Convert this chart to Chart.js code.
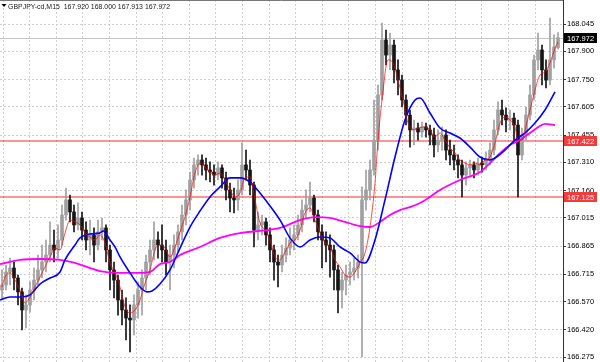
<!DOCTYPE html>
<html><head><meta charset="utf-8">
<script src="https://cdn.jsdelivr.net/npm/chart.js@4.4.1/dist/chart.umd.min.js"></script>
<style>html,body{margin:0;padding:0;background:#fff;overflow:hidden}canvas{display:block}</style>
</head><body>
<canvas id="c" width="600" height="362"></canvas>
<script>
const symbol = "GBPJPY-cd,M15";
const opens = [166.631,166.658,166.727,166.748,166.695,166.621,166.525,166.552,166.631,166.684,
166.738,166.780,166.817,166.870,166.844,166.897,167.030,167.110,167.046,166.977,
167.014,166.950,166.897,166.924,166.870,166.940,166.961,166.844,166.738,166.684,
166.578,166.525,166.482,166.472,166.552,166.631,166.695,166.780,166.844,166.897,
166.870,166.844,166.780,166.817,166.870,166.940,167.030,167.110,167.216,167.296,
167.322,167.296,167.269,167.258,167.242,167.280,167.227,167.163,167.120,167.110,
167.163,167.296,167.269,167.189,166.950,166.977,166.993,166.924,166.844,166.780,
166.764,166.817,166.854,166.897,166.924,166.977,167.056,167.083,167.120,167.030,
166.940,166.897,166.870,166.844,166.738,166.631,166.684,166.711,166.727,166.748,
166.780,167.110,167.163,167.269,167.428,167.668,167.960,167.880,167.933,167.801,
167.747,167.641,167.561,167.482,167.492,167.471,167.498,167.482,167.455,167.402,
167.428,167.455,167.375,167.349,167.322,167.296,167.242,167.280,167.296,167.269,
167.306,167.296,167.322,167.375,167.482,167.588,167.561,167.535,167.545,167.508,
167.349,167.455,167.561,167.668,167.854,167.907,167.801,167.747,167.854,167.920];
const highs = [166.738,166.764,166.801,166.780,166.711,166.642,166.605,166.674,166.748,166.817,
166.870,166.897,166.993,166.950,166.977,167.083,167.173,167.136,167.083,167.094,
167.046,166.993,167.003,166.961,167.003,167.014,166.977,166.870,166.780,166.711,
166.631,166.589,166.552,166.605,166.674,166.738,166.817,166.897,166.993,166.940,
166.977,166.897,166.870,166.924,166.977,167.083,167.163,167.258,167.333,167.349,
167.349,167.333,167.312,167.296,167.312,167.296,167.258,167.200,167.173,167.216,
167.413,167.375,167.322,167.205,167.046,167.030,167.014,166.961,166.870,166.817,
166.870,166.908,166.961,166.977,167.030,167.110,167.163,167.205,167.136,167.056,
166.977,166.940,166.924,166.870,166.764,166.727,166.764,166.780,166.801,166.817,
167.179,167.269,167.322,167.641,167.721,168.050,168.013,167.997,167.960,167.854,
167.774,167.668,167.588,167.535,167.519,167.524,167.519,167.508,167.492,167.482,
167.498,167.482,167.428,167.402,167.349,167.322,167.312,167.322,167.312,167.333,
167.338,167.365,167.413,167.535,167.631,167.641,167.599,167.588,167.572,167.535,
167.492,167.604,167.721,167.880,167.997,167.933,167.854,168.077,167.987,168.000];
const lows = [166.578,166.631,166.658,166.631,166.552,166.419,166.429,166.514,166.578,166.658,
166.695,166.727,166.780,166.780,166.801,166.870,167.003,166.993,166.940,166.950,
166.897,166.844,166.817,166.780,166.844,166.897,166.780,166.631,166.589,166.498,
166.445,166.366,166.302,166.392,166.482,166.498,166.631,166.711,166.791,166.801,
166.780,166.711,166.631,166.748,166.833,166.897,166.977,167.056,167.173,167.242,
167.242,167.216,167.205,167.189,167.216,167.173,167.110,167.046,167.041,167.056,
167.136,167.216,167.136,166.860,166.897,166.924,166.870,166.780,166.684,166.647,
166.727,166.780,166.817,166.844,166.897,166.940,167.014,167.046,166.993,166.897,
166.748,166.780,166.700,166.631,166.509,166.536,166.605,166.658,166.684,166.695,
166.275,167.056,167.110,167.242,167.375,167.641,167.827,167.801,167.732,167.668,
167.604,167.508,167.391,167.402,167.428,167.444,167.444,167.402,167.338,167.365,
167.375,167.322,167.296,167.269,167.227,167.126,167.189,167.242,167.227,167.242,
167.258,167.269,167.296,167.349,167.455,167.508,167.471,167.482,167.428,167.126,
167.322,167.428,167.535,167.641,167.801,167.721,167.705,167.721,167.811,167.913];
const closes = [166.658,166.727,166.748,166.695,166.621,166.525,166.552,166.631,166.684,166.738,
166.780,166.817,166.870,166.844,166.897,167.030,167.110,167.046,166.977,167.014,
166.950,166.897,166.924,166.870,166.940,166.961,166.844,166.738,166.684,166.578,
166.525,166.482,166.472,166.552,166.631,166.695,166.780,166.844,166.897,166.870,
166.844,166.780,166.817,166.870,166.940,167.030,167.110,167.216,167.296,167.322,
167.296,167.269,167.258,167.242,167.280,167.227,167.163,167.120,167.110,167.163,
167.296,167.269,167.189,166.950,166.977,166.993,166.924,166.844,166.780,166.764,
166.817,166.854,166.897,166.924,166.977,167.056,167.083,167.120,167.030,166.940,
166.897,166.870,166.844,166.738,166.631,166.684,166.711,166.727,166.748,166.780,
167.110,167.163,167.269,167.428,167.668,167.960,167.880,167.933,167.801,167.747,
167.641,167.561,167.482,167.492,167.471,167.498,167.482,167.455,167.402,167.428,
167.455,167.375,167.349,167.322,167.296,167.242,167.280,167.296,167.269,167.306,
167.296,167.322,167.375,167.482,167.588,167.561,167.535,167.545,167.508,167.349,
167.455,167.561,167.668,167.854,167.907,167.801,167.747,167.854,167.923,167.972];

// Fast MA (red), sampled along the bar index
const fastMaX = [0,0.75,2,3.25,4.5,5.75,7,8.25,9.5,10.75,12,13.25,14.5,15.75,17,18.25,19.5,20.75,22,23.25,24.5,25.75,27,28.25,29.5,30.75,32,33.25,34.5,35.75,37,38.25,39.5,40.75,42,43.25,44.5,45.75,47,48.25,49.5,50.75,52,53.25,54.5,55.75,57,58.25,59.5,60.75,62,63.25,64.5,65.75,67,68.25,69.5,70.75,72,73.25,74.5,75.75,77,78.25,79.5,80.75,82,83.25,84.5,85.75,87,88.25,89.5,90.75,92,93.25,94,95,96.5,97.75,99,100.25,101.5,102.75,104,105.75,107,108.25,109.5,110.75,112,113.25,114.5,115.75,117,118.25,119.5,120.75,122,123.25,124.5,125.75,127,128.25,129,130,130.75,132,133.25,134.5,135.75,137,138.25,139];
const fastMa = [166.647,166.700,166.722,166.684,166.631,166.562,166.594,166.647,166.700,166.754,
166.807,166.854,166.844,166.934,167.003,166.993,166.977,166.934,166.913,166.897,
166.924,166.881,166.775,166.722,166.647,166.541,166.509,166.525,166.578,166.668,
166.738,166.844,166.870,166.854,166.807,166.860,166.940,167.019,167.126,167.253,
167.306,167.285,167.258,167.242,167.253,167.216,167.163,167.126,167.147,167.227,
167.232,167.110,166.987,166.950,166.897,166.807,166.791,166.833,166.881,166.897,
166.950,167.041,167.067,167.003,166.934,166.881,166.860,166.791,166.754,166.711,
166.700,166.727,166.775,166.828,166.966,167.200,167.428,167.641,167.854,167.838,
167.747,167.641,167.519,167.482,167.492,167.498,167.482,167.444,167.466,167.428,
167.386,167.359,167.322,167.306,167.296,167.306,167.296,167.322,167.338,167.413,
167.519,167.551,167.535,167.498,167.428,167.428,167.482,167.588,167.694,167.774,
167.790,167.838,167.917,167.949];
// Medium MA (blue)
const midMaX = [-0.5,2,4.5,7,9.5,12,14.5,15.75,18.25,19.5,22,24.5,25.25,27,28.25,29.5,32,34.5,36.25,37.5,39.5,42,44.5,47,49.5,52,54.5,57,59.5,62,64.5,67,69.5,72,74.5,77,79.5,82,84.5,87,89.5,90.75,93.25,95.75,98.25,100.75,103.25,104.5,107,109.5,112,114.5,117,119.5,122,123.25,125.75,128.25,130.75,133.25,135.75,138.25];
const midMa = [166.578,166.594,166.594,166.605,166.663,166.695,166.727,166.791,166.870,166.908,
166.929,166.934,166.945,166.897,166.860,166.807,166.722,166.647,166.621,166.626,
166.663,166.738,166.854,166.966,167.051,167.126,167.179,167.227,167.227,167.205,
167.147,167.078,167.003,166.908,166.860,166.897,166.913,166.908,166.860,166.828,
166.780,166.775,166.897,167.110,167.338,167.535,167.641,167.652,167.572,167.492,
167.466,167.439,167.391,167.338,167.322,167.333,167.375,167.428,167.466,167.519,
167.588,167.684];
// Slow MA (magenta)
const slowMaX = [-0.5,4.5,9.5,14.5,18.25,22,24.5,29.5,34.5,37,39.5,42,44.5,49.5,54.5,59.5,64.5,69.5,74.5,78.25,82,85.75,89.5,92,94.5,97,99.5,102,104.5,107,109.5,114.5,119.5,122,124.5,127,129.5,132,134.5,135.75,138.25];
const slowMa = [166.769,166.791,166.796,166.791,166.775,166.748,166.732,166.722,166.722,166.727,
166.769,166.780,166.817,166.860,166.908,166.934,166.945,166.961,167.003,167.019,
167.014,166.993,166.971,166.966,166.993,167.030,167.056,167.072,167.094,167.126,
167.163,167.216,167.258,167.306,167.359,167.402,167.428,167.466,167.503,167.514,
167.508];

const yTickLabels = [168.045,167.900,167.750,167.605,167.455,167.310,167.160,167.015,166.865,166.715,166.570,166.420,166.275];
const priceLevels = [167.422, 167.125];
const lastPrice = closes[closes.length - 1];

const Y_MIN = 166.2485, Y_MAX = 168.1726;
const X_MIN = -0.5, X_MAX = 140.25;
const AXIS_W = 37;
const BULL = '#a0a0a0', BEAR = '#151515';
const colorOf = (i) => closes[i] >= opens[i] ? BULL : BEAR;

const wickData = opens.map((o, i) => ({x: i, y: [lows[i], highs[i]]}));
const bodyData = opens.map((o, i) => ({x: i, y: [o, closes[i]]}));
const pts = (xs, vs) => xs.slice(0, Math.min(xs.length, vs.length)).map((x, i) => ({x, y: vs[i]}));

const overlay = {
  id: 'overlay',
  beforeDatasetsDraw(chart) {
    const {ctx, chartArea: a, scales: {y}} = chart;
    ctx.save();
    ctx.setLineDash([]);
    ctx.globalAlpha = 1;
    ctx.lineWidth = 1;
    ctx.strokeStyle = '#c4c4c4';
    let py = Math.round(y.getPixelForValue(lastPrice)) + 0.5;
    ctx.beginPath(); ctx.moveTo(a.left, py); ctx.lineTo(a.right, py); ctx.stroke();
    ctx.strokeStyle = '#ff2a2a';
    ctx.lineWidth = 1.2;
    priceLevels.forEach(v => {
      const p = Math.round(y.getPixelForValue(v));
      ctx.beginPath(); ctx.moveTo(a.left, p); ctx.lineTo(a.right, p); ctx.stroke();
    });
    ctx.restore();
  },
  afterDraw(chart) {
    const {ctx, chartArea: a, scales: {y}} = chart;
    ctx.save();
    ctx.setLineDash([]);
    // frame
    ctx.strokeStyle = '#777';
    ctx.lineWidth = 1;
    ctx.beginPath(); ctx.moveTo(0, 0.5); ctx.lineTo(a.right, 0.5); ctx.stroke();
    ctx.strokeStyle = '#333';
    ctx.beginPath(); ctx.moveTo(a.right + 0.5, 0); ctx.lineTo(a.right + 0.5, chart.height); ctx.stroke();
    // price labels
    ctx.font = '7.5px "Liberation Sans", Arial, sans-serif';
    ctx.textBaseline = 'middle';
    ctx.textAlign = 'left';
    const box = (v, bg) => {
      const p = Math.round(y.getPixelForValue(v));
      ctx.fillStyle = bg;
      ctx.fillRect(a.right + 1, p - 5, 33, 10);
      ctx.fillStyle = '#fff';
      ctx.fillText(v.toFixed(3), a.right + 4, p + 0.5, 28);
    };
    box(lastPrice, '#000');
    priceLevels.forEach(v => box(v, '#f23c3c'));
    // title
    ctx.fillStyle = '#000';
    ctx.beginPath(); ctx.moveTo(1.5, 4); ctx.lineTo(6.5, 4); ctx.lineTo(4, 7); ctx.closePath(); ctx.fill();
    ctx.font = '7px "Liberation Sans", Arial, sans-serif';
    ctx.textBaseline = 'alphabetic';
    const n = closes.length - 1;
    const t = symbol + '  ' + [opens[n], highs[n], lows[n], closes[n]].map(v => v.toFixed(3)).join(' ');
    ctx.fillStyle = '#222';
    ctx.fillText(t, 8, 9, 162);
    ctx.restore();
  }
};

new Chart(document.getElementById('c'), {
  type: 'bar',
  data: {
    datasets: [
      {type: 'line', data: pts(fastMaX, fastMa), borderColor: 'rgba(255,0,0,0.7)', borderWidth: 1, pointRadius: 0, cubicInterpolationMode: 'monotone', order: 0},
      {type: 'line', data: pts(midMaX, midMa), borderColor: '#0000ff', borderWidth: 1.6, pointRadius: 0, cubicInterpolationMode: 'monotone', order: 0},
      {type: 'line', data: pts(slowMaX, slowMa), borderColor: '#ff00ff', borderWidth: 1.8, pointRadius: 0, cubicInterpolationMode: 'monotone', order: 0},
      {data: bodyData, backgroundColor: c => colorOf(c.dataIndex), barThickness: 3, grouped: false, borderWidth: 0, order: 1},
      {data: wickData, backgroundColor: c => colorOf(c.dataIndex), barThickness: 1, grouped: false, borderWidth: 0, order: 2}
    ]
  },
  options: {
    responsive: false,
    animation: false,
    devicePixelRatio: 1,
    layout: {padding: 0},
    plugins: {legend: {display: false}, tooltip: {enabled: false}},
    scales: {
      x: {
        type: 'linear', min: X_MIN, max: X_MAX, offset: false,
        afterBuildTicks: s => { const t = []; for (let k = 0; k <= 20; k++) t.push({value: 0.25 + 6.65 * k}); s.ticks = t; },
        ticks: {display: false},
        grid: {color: '#cfcfcf', lineWidth: 1, drawTicks: false, offset: false},
        border: {display: false, dash: [2, 2]},
        afterFit: s => { s.height = 0; s.paddingLeft = 0; s.paddingRight = 0; }
      },
      y: {
        position: 'right', min: Y_MIN, max: Y_MAX,
        afterBuildTicks: s => { s.ticks = yTickLabels.map(v => ({value: v})); },
        ticks: {autoSkip: false, padding: 1, color: '#000', font: {family: '"Liberation Sans", Arial, sans-serif', size: 7.5}, callback: v => Number(v).toFixed(3)},
        grid: {color: '#cfcfcf', lineWidth: 1, drawTicks: true, tickLength: 3, tickColor: '#333', tickBorderDash: []},
        border: {display: false, dash: [2, 2]},
        afterFit: s => { s.width = AXIS_W; s.paddingTop = 0; s.paddingBottom = 0; }
      }
    }
  },
  plugins: [overlay]
});
</script>
</body></html>
